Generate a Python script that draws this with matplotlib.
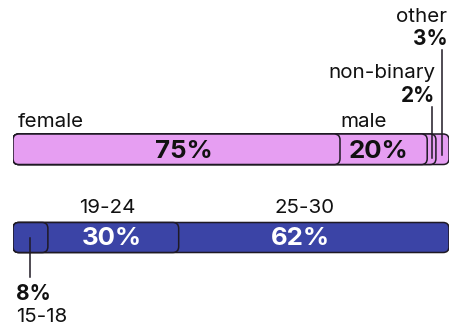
import matplotlib
matplotlib.use("Agg")
import matplotlib.pyplot as plt
from matplotlib.patches import FancyBboxPatch

# Data
gender_labels = ["female", "male", "non-binary", "other"]
gender_values = [75, 20, 2, 3]
age_labels = ["15-18", "19-24", "25-30"]
age_values = [8, 30, 62]

pink = "#E69EF2"
blue = "#3B44A6"
edge = "#1f1a24"

W, H = 466, 331
fig = plt.figure(figsize=(W / 100, H / 100), dpi=100)
# x axis in percent, y axis in pixel rows
ax = fig.add_axes([13 / W, 0, 436 / W, 1])
ax.set_xlim(0, 100)
ax.set_ylim(H, 0)
ax.axis("off")

px_per_pct = 436 / 100
fam = ["Inter", "DejaVu Sans"]


def stacked_bar(values, y0, y1, color):
  cum = []
  s = 0
  for v in values:
    s += v
    cum.append(s)
  # draw widest first so shorter rounded segments sit on top
  for i in range(len(cum) - 1, -1, -1):
    r = 1.35
    p = FancyBboxPatch((0, y0), cum[i], y1 - y0,
                       boxstyle="round,pad=0,rounding_size=%f" % r,
                       mutation_aspect=px_per_pct,
                       fc=color, ec=edge, lw=1.1, zorder=2 + (len(cum) - i))
    ax.add_patch(p)
  starts = [c - v for c, v in zip(cum, values)]
  return starts, cum


# ---- gender bar
gs, ge = stacked_bar(gender_values, 134, 164.5, pink)
tk = dict(family=fam, fontsize=14.8, color="#111111")
bk = dict(family=fam, fontsize=15, color="#111111", fontweight="bold")
big = 18.6

ax.text(1.0, 127, gender_labels[0], ha="left", va="baseline", **tk)
ax.text(ge[0], 127, gender_labels[1], ha="left", va="baseline", **tk)
ax.text((gs[0] + ge[0]) / 2 + 1.8, 158, "%d%%" % gender_values[0], ha="center",
        va="baseline", family=fam, fontsize=big, fontweight="bold",
        color="#111111", zorder=10)
ax.text((gs[1] + ge[1]) / 2 - 1.2, 158, "%d%%" % gender_values[1], ha="center",
        va="baseline", family=fam, fontsize=big, fontweight="bold",
        color="#111111", zorder=10)

# non-binary
nb_mid = (gs[2] + ge[2]) / 2
ax.plot([nb_mid, nb_mid], [107, 158], color=edge, lw=1.1, zorder=10)
ax.text(ge[2] - 0.2, 78, gender_labels[2], ha="right", va="baseline", **tk)
ax.text(ge[2] - 0.2, 102, "%d%%" % gender_values[2], ha="right", va="baseline", **bk)

# other
ot_mid = (gs[3] + ge[3]) / 2
ax.plot([ot_mid, ot_mid], [50, 155], color=edge, lw=1.1, zorder=10)
ax.text(ge[3] - 0.4, 22, gender_labels[3], ha="right", va="baseline", **tk)
ax.text(ge[3] - 0.4, 45, "%d%%" % gender_values[3], ha="right", va="baseline", **bk)

# ---- age bar
as_, ae = stacked_bar(age_values, 222.5, 252.5, blue)
wk = dict(family=fam, fontsize=big, fontweight="bold", color="white", zorder=10)
ax.text((as_[1] + ae[1]) / 2 - 0.3, 245, "%d%%" % age_values[1], ha="center", va="baseline", **wk)
ax.text((as_[2] + ae[2]) / 2 - 3.0, 245, "%d%%" % age_values[2], ha="center", va="baseline", **wk)
ax.text((as_[1] + ae[1]) / 2 - 1.4, 213, age_labels[1], ha="center", va="baseline", **tk)
ax.text((as_[2] + ae[2]) / 2 - 2.1, 213, age_labels[2], ha="center", va="baseline", **tk)

a_mid = (as_[0] + ae[0]) / 2
ax.plot([a_mid, a_mid], [238, 277], color=edge, lw=1.1, zorder=10)
ax.text(0.6, 300, "%d%%" % age_values[0], ha="left", va="baseline", **bk)
ax.text(0.6, 322, age_labels[0], ha="left", va="baseline", **tk)

fig.savefig("out.png", dpi=100, facecolor="white")
